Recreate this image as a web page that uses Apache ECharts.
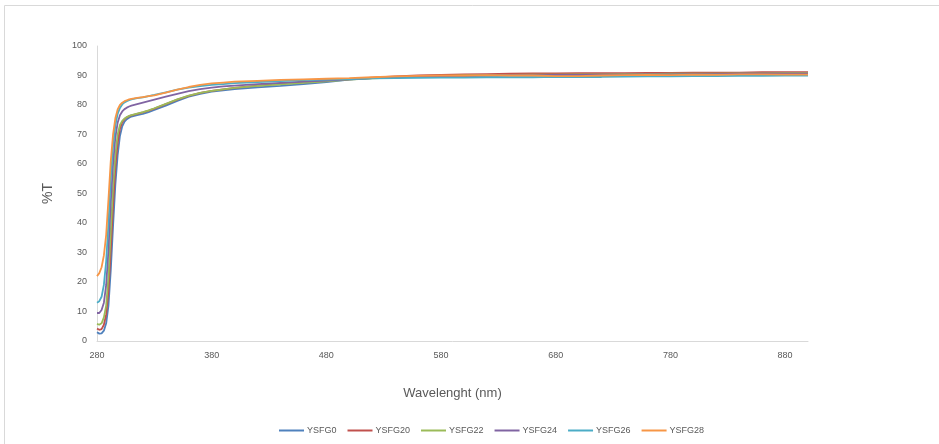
<!DOCTYPE html>
<html><head><meta charset="utf-8">
<script src="https://cdn.jsdelivr.net/npm/echarts@6/dist/echarts.min.js"></script>
<style>html,body{margin:0;padding:0;background:#fff}#c{width:939px;height:444px}</style>
</head><body><div id="c"></div>
<script>
const wavelengths = [280,282,284,286,288,290,292,294,296,298,300,302,304,306,308,310,315,320,325,330,340,350,360,370,380,390,400,420,440,460,480,500,520,540,560,580,600,620,640,660,680,700,720,740,760,780,800,820,840,860,880,900];
const YSFG0  = [3,2.5,2.6,3.5,6,12,24,39,53,63,69.5,72.8,74.4,75.2,75.7,76.1,76.6,77,77.6,78.3,79.8,81.4,82.8,83.8,84.5,85,85.4,86,86.5,87.1,87.8,88.6,89.1,89.4,89.6,89.7,89.8,89.9,90,90,90.1,90.1,90.2,90.2,90.3,90.3,90.4,90.4,90.5,90.5,90.5,90.5];
const YSFG20 = [4.2,3.8,4,5.5,9,17,31,46,59,67,72,74.2,75.2,75.8,76.2,76.5,77,77.5,78.1,78.8,80.3,81.8,83.1,84.1,84.8,85.3,85.8,86.6,87.2,87.7,88.2,88.8,89.3,89.7,90,90.2,90.4,90.5,90.6,90.7,90.7,90.8,90.8,90.8,90.9,90.9,91,91,91,91.1,91.1,91.1];
const YSFG22 = [5.8,5.5,6,8,12,22,37,52,63,70,73.2,74.6,75.4,75.9,76.3,76.6,77.1,77.6,78.2,78.9,80.4,81.9,83.2,84.1,84.8,85.3,85.8,86.5,87,87.5,88,88.6,89,89.3,89.6,89.8,90,90.1,90.2,90.3,90.3,90.4,90.4,90.5,90.5,90.6,90.6,90.6,90.7,90.7,90.8,90.8];
const YSFG24 = [9.5,9.5,10.5,13,19,31,47,60,69,74,76.5,77.8,78.6,79.1,79.5,79.8,80.3,80.8,81.3,81.8,82.8,83.8,84.7,85.4,85.9,86.3,86.6,87.1,87.5,87.9,88.3,88.7,89.1,89.4,89.6,89.8,89.9,90,90.1,90.1,90.2,90.2,90.3,90.3,90.4,90.4,90.5,90.5,90.6,90.6,90.6,90.6];
const YSFG26 = [13,13.5,15,19,27,40,55,66,73,77,79,80.2,80.9,81.3,81.6,81.9,82.3,82.6,83,83.4,84.3,85.2,85.9,86.4,86.8,87.1,87.4,87.8,88.1,88.4,88.6,88.8,89,89.1,89.2,89.3,89.3,89.4,89.4,89.4,89.5,89.5,89.5,89.6,89.7,89.7,89.8,89.8,89.9,89.9,90,90];
const YSFG28 = [22,23,25,29,36,48,61,70,75.5,78.5,80,80.8,81.3,81.6,81.9,82.1,82.4,82.7,83,83.3,84.2,85.2,86.1,86.8,87.3,87.6,87.9,88.2,88.5,88.7,88.9,89.1,89.4,89.7,89.9,90,90,90.1,90,90,89.8,89.8,90,90.1,90.2,90.1,90.3,90.2,90.4,90.4,90.3,90.3];
const seriesNames = ['YSFG0','YSFG20','YSFG22','YSFG24','YSFG26','YSFG28'];
const seriesValues = [YSFG0,YSFG20,YSFG22,YSFG24,YSFG26,YSFG28];
const colors = ['#4F81BD','#C0504D','#9BBB59','#8064A2','#4BACC6','#F79646'];

const chart = echarts.init(document.getElementById('c'));
const txt = '#595959';
const font = 'Liberation Sans';
chart.setOption({
  animation:false,
  color: colors,
  graphic:[{type:'rect',shape:{x:4.5,y:5.5,width:960,height:460},style:{fill:'none',stroke:'#d9d9d9',lineWidth:1},silent:true}],
  grid:{left:97,right:131,top:46,bottom:103},
  legend:{bottom:4,left:274,icon:'rect',itemWidth:25,itemHeight:2,itemGap:11,
    textStyle:{color:txt,fontSize:9,fontFamily:font,padding:[0,0,0,-2]},data:seriesNames},
  xAxis:{type:'value',min:280,max:900,interval:100,
    name:'Wavelenght (nm)',nameLocation:'middle',nameGap:46,
    nameTextStyle:{color:txt,fontSize:13,fontFamily:font},
    axisLine:{lineStyle:{color:'#d9d9d9'}},axisTick:{show:false},splitLine:{show:false},
    axisLabel:{color:txt,fontSize:9,fontFamily:font,margin:10,showMaxLabel:false}},
  yAxis:{type:'value',min:0,max:100,interval:10,
    name:'%T',nameLocation:'middle',nameGap:42,nameRotate:90,
    nameTextStyle:{color:txt,fontSize:14,fontFamily:font},
    axisLine:{show:true,lineStyle:{color:'#d9d9d9'}},axisTick:{show:false},splitLine:{show:false},
    axisLabel:{color:txt,fontSize:9,fontFamily:font,margin:10}},
  series: seriesNames.map((n,i)=>({name:n,type:'line',showSymbol:false,symbol:'none',
    lineStyle:{width:1.8,color:colors[i]},itemStyle:{color:colors[i]},
    data: wavelengths.map((w,j)=>[w,seriesValues[i][j]])}))
});
</script></body></html>
